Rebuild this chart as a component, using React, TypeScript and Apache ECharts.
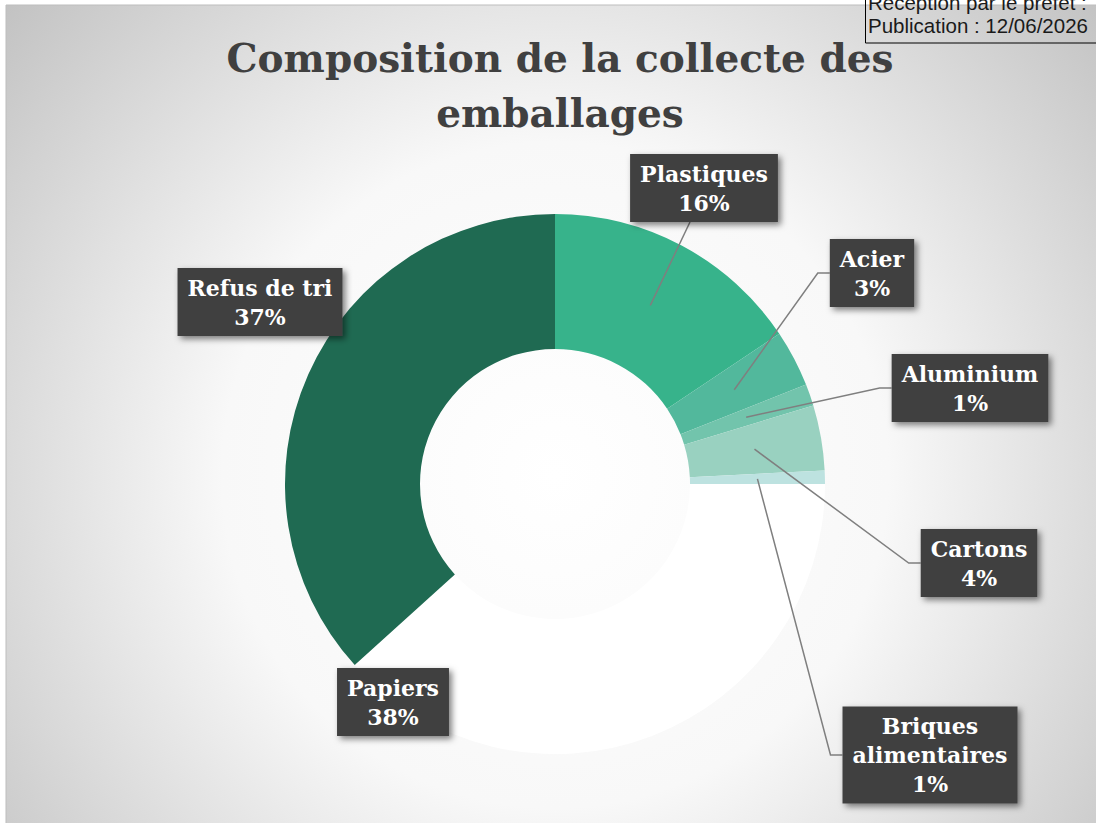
import React, { useEffect, useRef } from "react";
import * as echarts from "echarts";

// ---- data ----
const categories = [
  "Plastiques",
  "Acier",
  "Aluminium",
  "Cartons",
  "Briques\nalimentaires",
  "Papiers",
  "Refus de tri",
];
const values = [15.6, 3.4, 1.3, 3.9, 0.8, 38.3, 36.7];
const titleLines = ["Composition de la collecte des", "emballages"];
const stampLines = ["Réception par le préfet :", "Publication : 12/06/2026"];

// ---- styles / layout ----
const colors = ["#37b38b", "#52b89c", "#72c4ac", "#99d1c0", "#bde2e0", "#ffffff", "#1f6a52"];
const labelCenters: number[][] = [
  [704, 188],
  [872, 273],
  [970, 388],
  [979, 563],
  [930, 755],
  [393, 702],
  [260, 302],
];
const showLeader = [true, true, true, true, true, false, false];
const CX = 555;
const CY = 484;
const R_IN = 135;
const R_OUT = 270;
const SERIF = "'DejaVu Serif', 'Liberation Serif', serif";

export default function App() {
  const ref = useRef<HTMLDivElement>(null);

  useEffect(() => {
    if (!ref.current) return;
    const chart = echarts.init(ref.current, undefined, { renderer: "svg" });
    const total = values.reduce((a, b) => a + b, 0);

    // anchor points of leader lines at mid-ring on each slice's mid angle
    const anchors: number[][] = [];
    let cum = 0;
    values.forEach((v) => {
      const mid = ((cum + v / 2) / total) * Math.PI * 2;
      const r = (R_IN + R_OUT) / 2;
      anchors.push([CX + r * Math.sin(mid), CY - r * Math.cos(mid)]);
      cum += v;
    });

    const pieBase = {
      type: "pie",
      center: [CX, CY],
      radius: [R_IN, R_OUT],
      startAngle: 90,
      clockwise: true,
      avoidLabelOverlap: false,
      emphasis: { disabled: true },
    };

    chart.setOption({
      animation: false,
      backgroundColor: "#ffffff",
      title: {
        text: titleLines.join("\n"),
        left: CX,
        top: 25,
        textAlign: "center",
        textStyle: {
          fontFamily: SERIF,
          fontWeight: "bold",
          fontSize: 39,
          lineHeight: 55,
          color: "#404040",
        },
      },
      graphic: [
        {
          type: "rect",
          z: -10,
          silent: true,
          shape: { x: 6, y: 5, width: 1100, height: 830 },
          style: {
            fill: {
              type: "radial",
              x: CX,
              y: 475,
              r: 740,
              global: true,
              colorStops: [
                { offset: 0, color: "#ffffff" },
                { offset: 0.45, color: "#f8f8f8" },
                { offset: 1, color: "#c0c0c0" },
              ],
            },
            stroke: "#bdbdbd",
            lineWidth: 1,
          },
        },
        {
          type: "rect",
          z: 10,
          silent: true,
          shape: { x: 865.5, y: -10, width: 240, height: 53 },
          style: { fill: "transparent", stroke: "#000000", lineWidth: 1 },
        },
        {
          type: "text",
          z: 11,
          silent: true,
          x: 868,
          y: -9,
          style: {
            text: stampLines.join("\n"),
            font: "20.5px 'Liberation Sans', Arial, sans-serif",
            lineHeight: 23,
            fill: "#1a1a1a",
          },
        },
      ],
      series: [
        {
          ...pieBase,
          z: 2,
          itemStyle: { borderWidth: 0 },
          label: { show: false },
          labelLine: { show: false },
          data: categories.map((name, i) => ({
            name,
            value: values[i],
            itemStyle: { color: colors[i] },
          })),
        },
        {
          ...pieBase,
          z: 3,
          silent: true,
          itemStyle: { color: "rgba(0,0,0,0)", borderWidth: 0 },
          data: categories.map((name, i) => ({
            name,
            value: values[i],
            labelLine: { show: showLeader[i] },
          })),
          label: {
            show: true,
            position: "outside",
            formatter: (p: any) => `${p.name}\n${Math.round((p.value / total) * 100)}%`,
            color: "#ffffff",
            fontFamily: SERIF,
            fontWeight: "bold",
            fontSize: 22,
            lineHeight: 29,
            align: "center",
            backgroundColor: "#404040",
            padding: [5, 10],
            shadowColor: "rgba(0,0,0,0.5)",
            shadowBlur: 6,
            shadowOffsetX: 3,
            shadowOffsetY: 3,
          },
          labelLine: {
            show: true,
            length: 10,
            length2: 10,
            lineStyle: { color: "#7f7f7f", width: 1.5 },
          },
          labelLayout: (params: any) => {
            const i = params.dataIndex;
            const [lx, ly] = labelCenters[i];
            const w = params.labelRect.width;
            const h = params.labelRect.height;
            const res: any = { x: lx, y: ly, align: "center", verticalAlign: "middle" };
            if (showLeader[i]) {
              const a = anchors[i];
              if (i === 0) {
                const end = [lx - 14, ly + h / 2];
                res.labelLinePoints = [a, end, end];
              } else {
                const ex = lx - w / 2;
                res.labelLinePoints = [a, [ex - 12, ly], [ex, ly]];
              }
            }
            return res;
          },
        },
      ],
    });

    return () => chart.dispose();
  }, []);

  return (
    <div
      ref={ref}
      style={{ position: "absolute", left: 0, top: 0, width: 1096, height: 823 }}
    />
  );
}
